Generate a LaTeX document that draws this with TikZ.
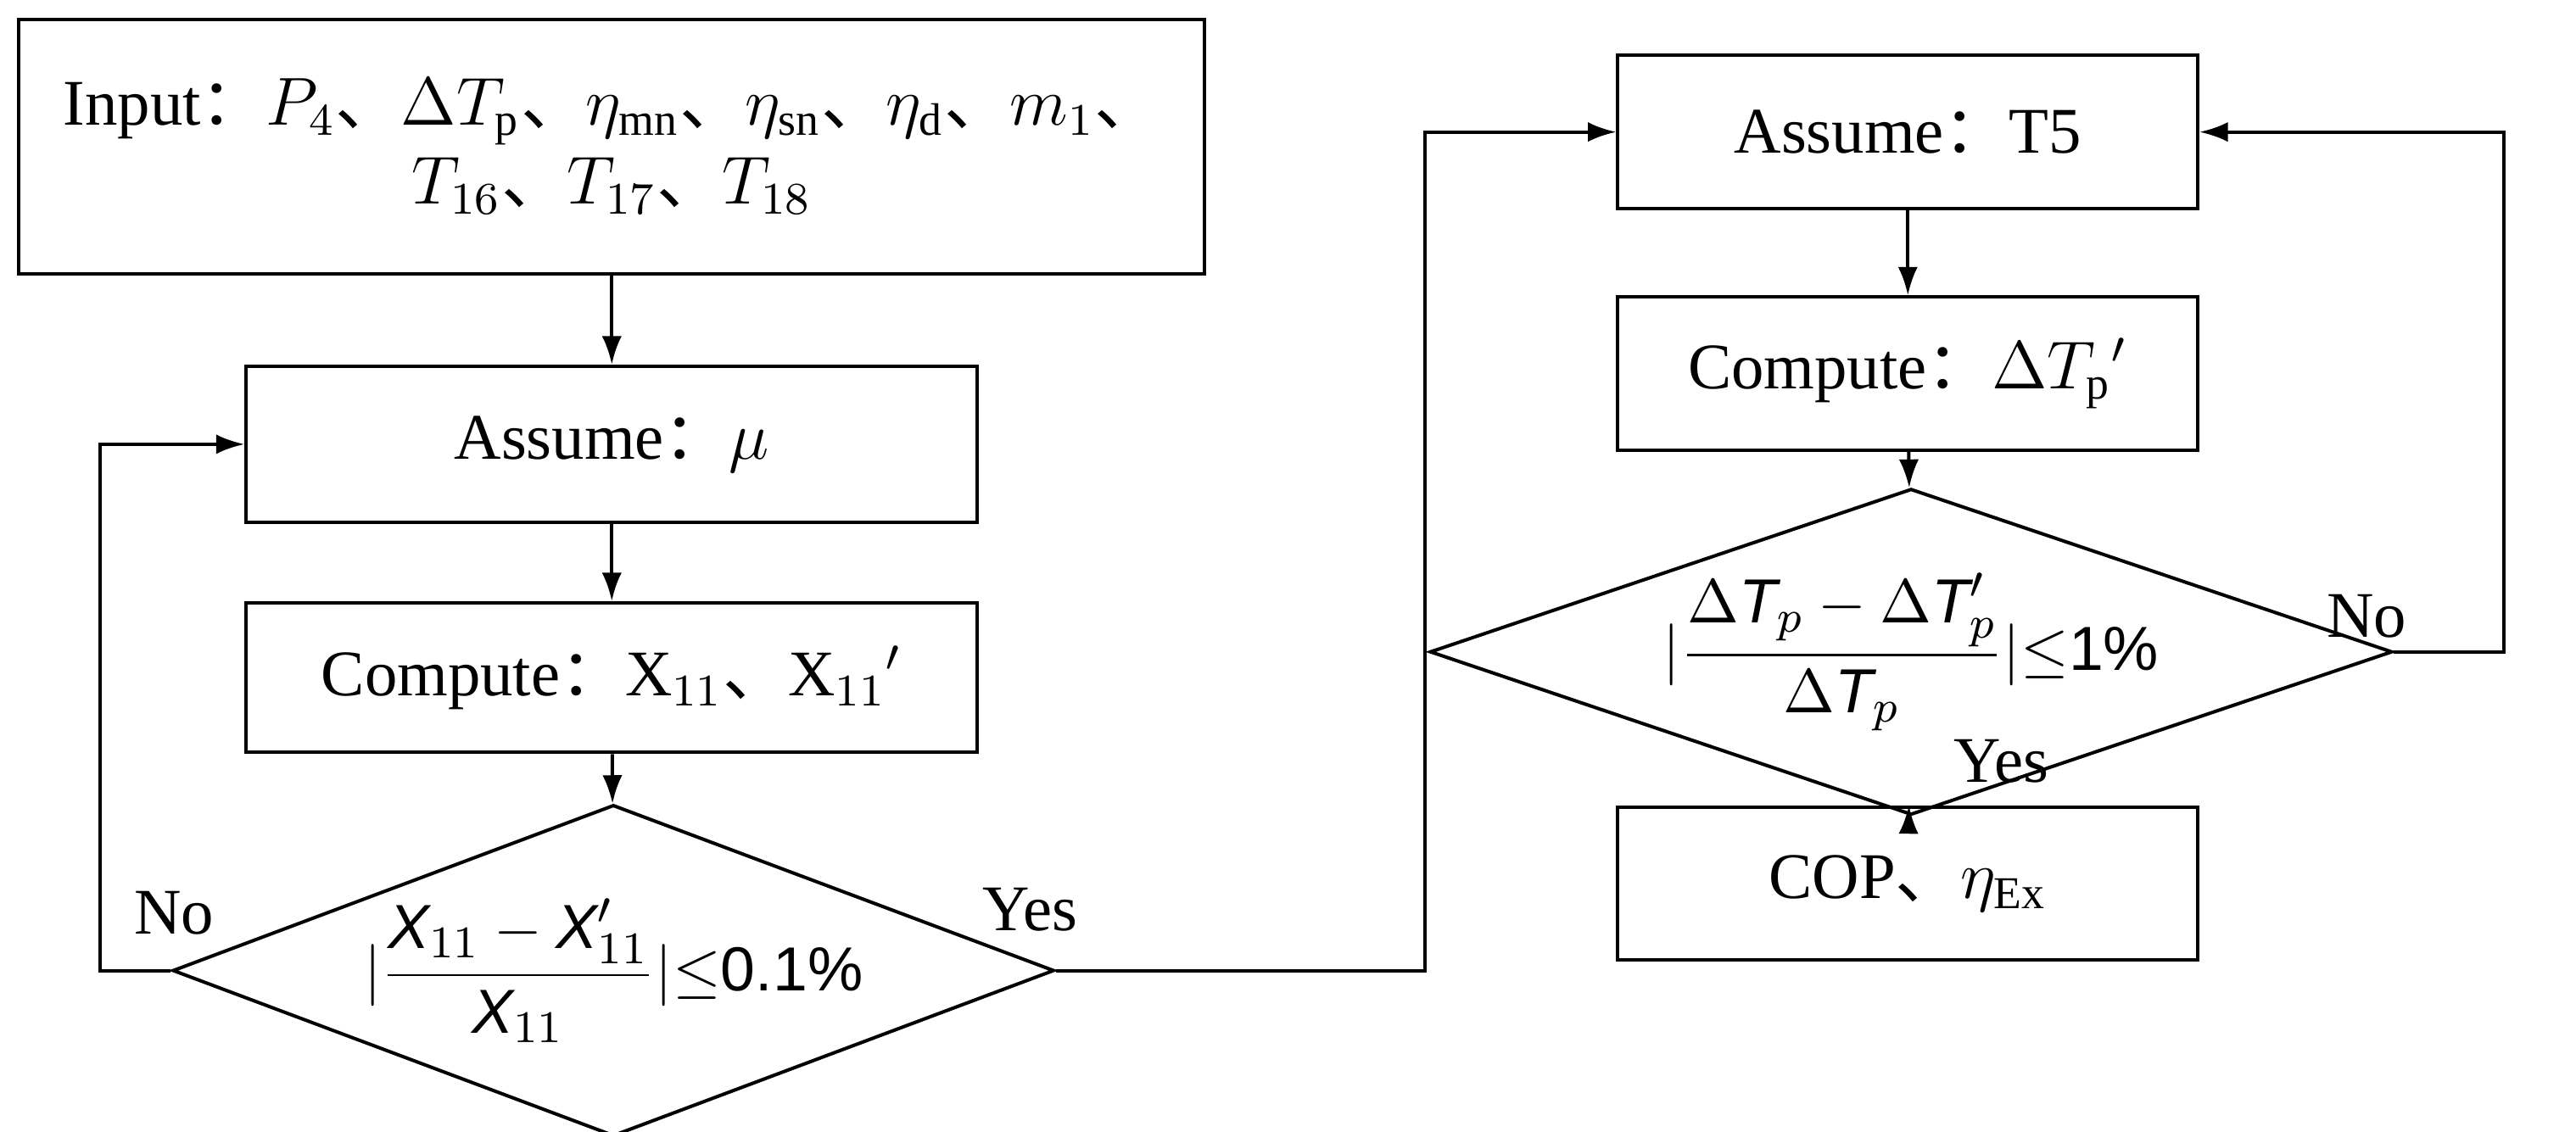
\documentclass[tikz,border=0pt]{standalone}
\usepackage{fontspec}
\setmainfont{Liberation Serif}
\newfontfamily\cjk{Noto Sans CJK SC}
\newfontfamily\sfx{Liberation Sans}
\usetikzlibrary{shapes.geometric,arrows.meta}
\newcommand{\cc}{{\cjk ：}}
\newcommand{\dd}{{\cjk 、}}
\begin{document}
\begin{tikzpicture}[x=0.01cm,y=-0.01cm,
  box/.style={draw,line width=0.6pt,rectangle,inner sep=0pt,align=center,font=\fontsize{11.5}{14}\selectfont},
  dia/.style={draw,line width=0.6pt,diamond,inner sep=0pt,font=\fontsize{11}{13}\selectfont},
  arr/.style={-{Latex[length=5pt,width=3.5pt]},line width=0.6pt},
  lab/.style={font=\fontsize{11.5}{14}\selectfont}]
\useasboundingbox (0,0) rectangle (1600,703);
\node[box,minimum width=7.36cm,minimum height=1.58cm] (inp) at (380,91)
 {Input\cc$P_4$\dd$\Delta T_{\mathrm p}$\dd$\eta_{\mathrm{mn}}$\dd$\eta_{\mathrm{sn}}$\dd$\eta_{\mathrm d}$\dd$m_1$\dd\\ $T_{16}$\dd$T_{17}$\dd$T_{18}$};
\node[box,minimum width=4.54cm,minimum height=0.97cm] (as1) at (380,276) {Assume\cc$\mu$};
\node[box,minimum width=4.54cm,minimum height=0.93cm] (cp1) at (380,421) {Compute\cc X$_{11}$\dd X$_{11}$$'$};
\node[dia,shape aspect=2.66,minimum width=4.13cm,minimum height=1.55cm] (d1) at (381,603)
 {\sfx $|\displaystyle\frac{\textit{X}_{11}-\textit{X}_{11}'}{\textit{X}_{11}}|$$\leq$0.1\%};
\node[box,minimum width=3.6cm,minimum height=0.95cm] (as2) at (1185,82) {Assume\cc T5};
\node[box,minimum width=3.6cm,minimum height=0.95cm] (cp2) at (1185,232) {Compute\cc$\Delta T_{\mathrm p}$$'$};
\node[dia,shape aspect=2.95,minimum width=4.13cm,minimum height=1.40cm] (d2) at (1187,405)
 {\sfx $|\displaystyle\frac{\Delta \textit{T}_p-\Delta \textit{T}_p'}{\Delta \textit{T}_p}|$$\leq$1\%};
\node[box,minimum width=3.6cm,minimum height=0.95cm] (cop) at (1185,549) {COP\dd$\eta_{\mathrm{Ex}}$};
\coordinate (l1) at (62,603); \coordinate (l2) at (62,276);
\coordinate (m1) at (885,603); \coordinate (m2) at (885,82);
\coordinate (r1) at (1555,405); \coordinate (r2) at (1555,82);
\draw[arr] (inp) -- (as1);
\draw[arr] (as1) -- (cp1);
\draw[arr] (cp1) -- (d1);
\draw[arr] (d1.west) -- (l1) -- (l2) -- (as1.west);
\draw[arr] (d1.east) -- (m1) -- (m2) -- (as2.west);
\draw[arr] (as2) -- (cp2);
\draw[arr] (cp2) -- (d2);
\draw[arr] (d2.east) -- (r1) -- (r2) -- (as2.east);
\draw[arr] (d2) -- (cop);
\node[lab] (no1) at (108,567) {No};
\node[lab] (yes1) at (640,565) {Yes};
\node[lab] (no2) at (1470,383) {No};
\node[lab] (yes2) at (1243,473) {Yes};
\end{tikzpicture}
\end{document}
